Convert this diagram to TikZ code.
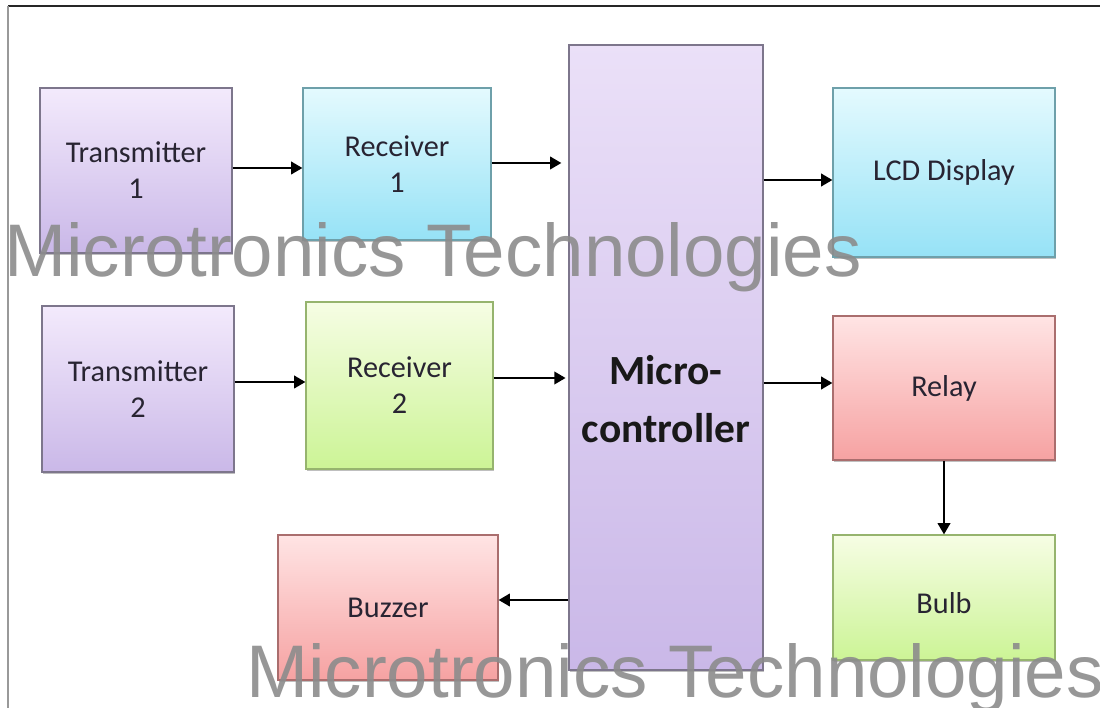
\documentclass[tikz,border=0pt]{standalone}
\usepackage{fontspec}
\setmainfont{Carlito}
\newfontfamily\wmfont{Liberation Sans}
\usetikzlibrary{arrows.meta,shadows,calc}
\definecolor{purT}{RGB}{243,234,252}
\definecolor{purB}{RGB}{202,184,232}
\definecolor{purD}{RGB}{125,118,140}
\definecolor{cyaT}{RGB}{228,250,254}
\definecolor{cyaB}{RGB}{150,226,246}
\definecolor{cyaD}{RGB}{110,160,170}
\definecolor{grnT}{RGB}{246,253,228}
\definecolor{grnB}{RGB}{204,244,150}
\definecolor{grnD}{RGB}{150,180,110}
\definecolor{redT}{RGB}{255,228,228}
\definecolor{redB}{RGB}{246,162,162}
\definecolor{redD}{RGB}{170,110,110}
\definecolor{txt}{RGB}{40,36,50}
\definecolor{wmgray}{RGB}{140,140,140}
\tikzset{
  blk/.style={rectangle, inner sep=0pt, line width=0.9pt, align=center,
    font=\fontsize{21.5}{25.5}\selectfont, text=txt,
    drop shadow={shadow xshift=0.6pt, shadow yshift=-1.6pt, fill=black, opacity=0.25}},
  pur/.style={blk, draw=purD, top color=purT, bottom color=purB},
  cya/.style={blk, draw=cyaD, top color=cyaT, bottom color=cyaB},
  grn/.style={blk, draw=grnD, top color=grnT, bottom color=grnB},
  red/.style={blk, draw=redD, top color=redT, bottom color=redB},
  arr/.style={line width=1.3pt, black, -{Triangle[length=8pt,width=9pt]}},
  wm/.style={inner sep=0pt, anchor=base west, text=wmgray, opacity=0.9,
    font=\wmfont\fontsize{53}{60}\selectfont}
}
\begin{document}
\begin{tikzpicture}[x=0.025cm,y=-0.025cm]
\useasboundingbox[fill=white] (0,0) rectangle (1100,708);
% frame
\draw[line width=1.6pt, black!85] (8,6) -- (1100,6);
\draw[line width=1pt, black!40] (8,6) -- (8,708);
% boxes
\node[pur, minimum width=192*0.025cm, minimum height=165*0.025cm] (t1) at (136,170.5) {Transmitter\\1};
\node[cya, minimum width=188*0.025cm, minimum height=152*0.025cm] (r1) at (397,164) {Receiver\\1};
\node[pur, minimum width=194*0.025cm, minimum height=625*0.025cm, top color=purT!80!purB, bottom color=purB] (mc) at (666,357.5) {};
\node[inner sep=0pt, align=center, text=black!90, font=\bfseries\fontsize{29.5}{41}\selectfont] (mct) at (666,399) {Micro-\\controller};
\node[cya, minimum width=222*0.025cm, minimum height=169*0.025cm] (lcd) at (944,172.5) {LCD Display};
\node[pur, minimum width=192*0.025cm, minimum height=166*0.025cm] (t2) at (138,389) {Transmitter\\2};
\node[grn, minimum width=187*0.025cm, minimum height=167*0.025cm] (r2) at (399.5,385.5) {Receiver\\2};
\node[red, minimum width=222*0.025cm, minimum height=144*0.025cm] (relay) at (944,388) {Relay};
\node[grn, minimum width=222*0.025cm, minimum height=125*0.025cm, text depth=0pt] (bulb) at (944,597.5) {\raisebox{-8pt}{Bulb}};
\node[red, minimum width=220*0.025cm, minimum height=145*0.025cm] (buzzer) at (388,607.5) {Buzzer};
% connectors
\draw[arr] ($(t1.east)+(0,-2.5)$) -- ($(r1.west)+(0,4)$);
\draw[arr, shorten >=5pt] ($(r1.east)+(0,-1)$) -- ($(mc.west |- r1.east)+(0,-1)$);
\draw[arr] ($(mc.east |- lcd.west)+(0,7.5)$) -- ($(lcd.west)+(0,7.5)$);
\draw[arr] ($(t2.east)+(0,-7)$) -- ($(r2.west)+(0,-3.5)$);
\draw[arr, shorten >=2pt] ($(r2.east)+(0,-7.5)$) -- ($(mc.west |- r2.east)+(0,-7.5)$);
\draw[arr] ($(mc.east |- relay.west)+(0,-5)$) -- ($(relay.west)+(0,-5)$);
\draw[arr] (relay.south) -- (bulb.north);
\draw[arr] ($(mc.west |- buzzer.east)+(0,-7.5)$) -- ($(buzzer.east)+(0,-7.5)$);
% watermarks
\node[wm] (wm1) at (4,277) {Microtronics Technologies};
\node[wm] (wm2) at (246,697) {Microtronics Technologies};
\end{tikzpicture}
\end{document}
